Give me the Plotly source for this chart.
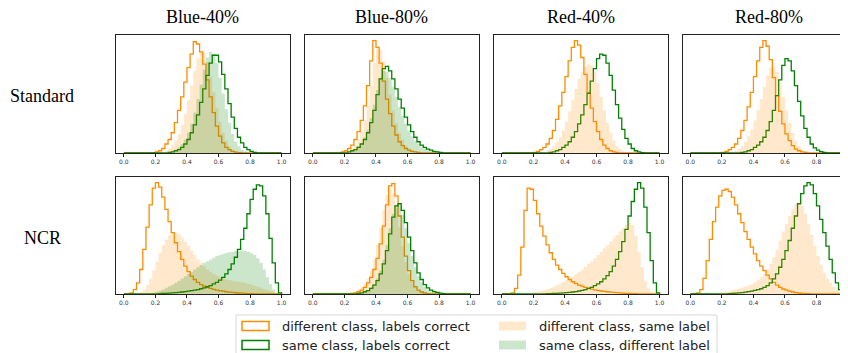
import numpy as np
import plotly.graph_objects as go

COLUMNS = ["Blue-40%", "Blue-80%", "Red-40%", "Red-80%"]
ROWS = ["Standard", "NCR"]
TICKS = [0.0, 0.2, 0.4, 0.6, 0.8, 1.0]
TICK_LABELS = ["0.0", "0.2", "0.4", "0.6", "0.8", "1.0"]
LEGEND_LABELS = ["different class, labels correct", "same class, labels correct",
                 "different class, same label", "same class, different label"]
N_BINS = 50  # bins on [0, 1]

# ---- Standard ----
std_b40_diff_correct = [0,0,0,0,0,0,0,0,0,0.3, 1,2,4,8,12,18,27,38,50,63, 76,88,99,97,90,79,65,50,36,24,
                        15,9,5,3,1.5,0.8,0.4,0,0,0, 0,0,0,0,0,0,0,0,0,0]
std_b40_same_correct = [0,0,0,0,0,0,0,0,0,0, 0,0,0,0,0.5,1,2,3,5,8, 12,18,25,34,45,57,69,80,87,87,
                        81,70,57,44,32,22,14,9,5,3, 1.5,0.5,0,0,0,0,0,0,0,0]
std_b40_diff_same = [0,0,0,0,0,0,0,0,0,0, 0,0,1,2,4,7,11,17,25,35, 47,60,73,84,90,89,81,68,54,40,
                     28,18,11,6,3,1.5,0.5,0,0,0, 0,0,0,0,0,0,0,0,0,0]
std_b40_same_diff = [0,0,0,0,0,0,0,0,0,0, 0,0,0,0,1,2,3,5,8,12, 18,26,36,48,61,74,85,90,88,80,
                     67,53,39,27,17,10,6,3,1.5,0.5, 0,0,0,0,0,0,0,0,0,0]

std_b80_diff_correct = [0,0,0,0,0,0,0,0,0,1, 2,4,7,12,19,29,42,60,82,100, 94,80,64,48,35,24,16,10,6.5,4,
                        2.5,1.5,1,0.5,0,0,0,0,0,0, 0,0,0,0,0,0,0,0,0,0]
std_b80_same_correct = [0,0,0,0,0,0,0,0,0,0, 0,1,2,3,5,8,12,18,27,38, 52,66,75,77,73,66,57,48,40,32,
                        25,19,14,10,7,5,3.5,2.5,1.5,1, 0.5,0,0,0,0,0,0,0,0,0]
std_b80_diff_same = [0,0,0,0,0,0,0,0,0,0, 1,2,4,7,12,19,29,42,60,80, 93,92,82,67,52,38,27,18,12,7,
                     4,2.5,1.5,0.8,0,0,0,0,0,0, 0,0,0,0,0,0,0,0,0,0]
std_b80_same_diff = [0,0,0,0,0,0,0,0,0,0, 0,1,2,3.5,6,9,14,21,31,43, 56,67,73,72,67,59,50,41,33,26,
                     20,15,11,8,5,3.5,2.5,1.5,1,0.5, 0,0,0,0,0,0,0,0,0,0]

std_r40_diff_correct = [0,0,0,0,0,0,0,0,0,0, 0.5,1.5,3,5,8,13,20,30,42,54, 68,82,94,100,96,85,70,54,40,28,
                        19,12,7,4,2,1,0.5,0,0,0, 0,0,0,0,0,0,0,0,0,0]
std_r40_same_correct = [0,0,0,0,0,0,0,0,0,0, 0,0,0,0,0,0.5,1,2,3,5, 7,10,14,19,26,34,43,53,64,75,
                        84,88,87,80,69,56,43,31,21,13, 8,4,2,1,0.3,0,0,0,0,0]
std_r40_diff_same = [0,0,0,0,0,0,0,0,0,0, 0,0,0,1,2,4,6,10,14,20, 28,37,47,57,66,72,77,79,78,72,
                     62,50,38,27,18,11,6,3.5,2,1, 0.5,0,0,0,0,0,0,0,0,0]

std_r80_diff_correct = [0,0,0,0,0,0,0,0,0,0, 0.5,1.5,3,5,8,13,20,29,41,54, 68,82,94,100,95,83,67,51,37,26,
                        17,11,6.5,3.5,2,1,0.5,0,0,0, 0,0,0,0,0,0,0,0,0,0]
std_r80_same_correct = [0,0,0,0,0,0,0,0,0,0, 0,0,0,0,0,0,0.5,1,2,3, 5,7,10,14,20,28,38,51,65,78,
                        84,82,73,60,46,33,22,14,8,4.5, 2.5,1.2,0.5,0,0,0,0,0,0,0]
std_r80_diff_same = [0,0,0,0,0,0,0,0,0,0, 0,0,0.5,1,2,4,6,10,15,21, 29,38,48,59,69,76,77,72,62,50,
                     38,27,18,11,6,3.5,2,1,0.5,0, 0,0,0,0,0,0,0,0,0,0]

# ---- NCR ----
ncr_b40_diff_correct = [0,0,1,4,10,22,40,60,80,95, 100,96,87,76,65,55,46,38,31,25, 20,16,13,10.5,8.5,7,6,5,4.2,3.5,
                        3,2.5,2,1.7,1.4,1.1,0.9,0.7,0.5,0.4, 0.3,0.2,0,0,0,0,0,0,0,0]
ncr_b40_same_correct = [0,0,0,0,0,0,0,0,0,0, 0,0.3,0.5,0.6,0.8,1,1.2,1.5,1.8,2.1, 2.5,3,3.5,4,4.7,5.5,6.5,7.5,9,10.5,
                        12.5,15,18,22,27,33,40,49,59,72, 85,94,98,97,88,72,50,28,10,1]
ncr_b40_diff_same = [0,0,0,0,0.5,1.5,4,8,14,21, 29,37,44,49,53,55,55,54,51,47, 43,39,35,31,28,25,22,20,18,16.5,
                     15,14,13,12.5,12,11.5,11,10.5,10,9, 8.5,7.5,6.5,5.5,4.5,3.5,2.5,1.5,0.7,0.2]
ncr_b40_same_diff = [0,0,0,0,0,0,0,0.3,0.7,1.2, 2,3,4,5.5,7,8.5,10,12,14,16, 18,20,22,24,26,28,29.5,31,32.5,34,
                     35,36,37,37.5,38,38.5,39,39,38.5,38, 36.5,35,32,28,22,15,9,4,1,0.2]

ncr_b80_diff_correct = [0,0,0,0,0,0,0,0,0,0, 0,0,0.5,1,2,3.5,6,10,15,22, 32,45,61,80,97,99,88,70,51,34,
                        21,12,6.5,3.5,1.8,0.9,0.4,0,0,0, 0,0,0,0,0,0,0,0,0,0]
ncr_b80_same_correct = [0,0,0,0,0,0,0,0,0,0, 0,0,0,0,0.5,1,2,3,5,8, 12,18,27,39,54,69,79,81,75,64,
                        51,39,28,19,13,8.5,5.5,3.5,2.2,1.4, 0.8,0.4,0,0,0,0,0,0,0,0]
ncr_b80_diff_same = [0,0,0,0,0,0,0,0,0,0, 0,0.5,1,2,3.5,6,9,14,21,31, 44,59,75,89,95,90,77,60,43,29,
                     18,11,6,3.5,2,1,0.5,0,0,0, 0,0,0,0,0,0,0,0,0,0]
ncr_b80_same_diff = [0,0,0,0,0,0,0,0,0,0, 0,0,0,0,0.5,1,2,3.5,6,9, 14,21,31,44,59,72,80,79,71,59,
                     46,34,24,16,10.5,6.5,4,2.5,1.5,0.8, 0.4,0,0,0,0,0,0,0,0,0]

ncr_r40_diff_correct = [0,0,0,1,5,17,42,75,95,94, 84,72,61,52,44,37,31,26,22,18.5, 15.5,13,11,9.5,8,7,6,5,4.3,3.7,
                        3.2,2.7,2.3,2,1.7,1.4,1.2,1,0.8,0.6, 0.5,0.4,0.3,0.2,0.1,0,0,0,0,0]
ncr_r40_same_correct = [0,0,0,0,0,0,0,0,0,0, 0,0,0,0,0.3,0.4,0.5,0.6,0.8,1, 1.2,1.5,1.8,2.2,2.7,3.3,4,5,6,7.5,
                        9,11,13.5,16.5,20,25,31,38,47,58, 70,83,94,100,95,78,55,30,10,1]
ncr_r40_diff_same = [0,0,0,0,0,0,0,0.3,0.6,1, 1.5,2,2.7,3.5,4.5,5.5,6.5,8,9.5,11, 12.5,14,16,18,20,22,24.5,27,29.5,32,
                     35,38,41,44,47,50,53,56,59,62, 64,62,52,38,24,12,5,1.5,0.3,0]

ncr_r80_diff_correct = [0,0.3,1,4,14,30,49,65,78,88, 93,94,92,87,80,72,64,56,49,42, 36,30,25,21,17,13.5,10.5,8,6,4.5,
                        3.5,2.5,1.8,1.3,0.9,0.6,0.4,0.3,0.2,0.1, 0,0,0,0,0,0,0,0,0,0]
ncr_r80_same_correct = [0,0,0,0,0,0,0,0,0,0, 0,0,0.3,0.5,0.7,1,1.3,1.7,2.1,2.6, 3.2,3.9,4.7,6,7.5,10,13.5,18,24,31,
                        39,48,59,70,81,90,97,100,98,90, 79,67,55,43,31,19,10,4,1,0.2]
ncr_r80_diff_same = [0,0,0,0,0,0,0,0.3,0.6,1, 1.5,2,2.7,3.5,4.2,5,5.8,6.7,7.7,9, 10.5,12.5,15,18,22,27,33,40,48,56,
                     63,70,76,81,82,79,72,63,53,43, 34,26,19,14,10,6.5,3.5,1.5,0.4,0.1]

# panel table: (row, col) -> (diff/correct, same/correct, diff/same-label, same/diff-label)
PANELS = {
    (0, 0): (std_b40_diff_correct, std_b40_same_correct, std_b40_diff_same, std_b40_same_diff),
    (0, 1): (std_b80_diff_correct, std_b80_same_correct, std_b80_diff_same, std_b80_same_diff),
    (0, 2): (std_r40_diff_correct, std_r40_same_correct, std_r40_diff_same, None),
    (0, 3): (std_r80_diff_correct, std_r80_same_correct, std_r80_diff_same, None),
    (1, 0): (ncr_b40_diff_correct, ncr_b40_same_correct, ncr_b40_diff_same, ncr_b40_same_diff),
    (1, 1): (ncr_b80_diff_correct, ncr_b80_same_correct, ncr_b80_diff_same, ncr_b80_same_diff),
    (1, 2): (ncr_r40_diff_correct, ncr_r40_same_correct, ncr_r40_diff_same, None),
    (1, 3): (ncr_r80_diff_correct, ncr_r80_same_correct, ncr_r80_diff_same, None),
}

ORANGE = "#ff8c00"
GREEN = "#008000"
ORANGE_FILL = "rgba(255,140,0,0.2)"
GREEN_FILL = "rgba(0,128,0,0.2)"

# the page body has an 8px margin, so the figure starts at window pixel (8, 8)
OFF = 8
W, H = 848 - OFF, 353 - OFF
def px(x): return (x - OFF) / W
def py(y): return 1 - (y - OFF) / H

COL_PX = [(116, 289.5), (305, 478.5), (494, 667.5), (682.5, 848)]
COL_RANGE = [[-0.05, 1.05], [-0.05, 1.05], [-0.05, 1.05], [-0.05, 1.0]]
ROW_PX = [(35, 153), (177, 294)]

edges = np.linspace(0, 1, N_BINS + 1)

def step_xy(vals):
    v = list(vals)
    assert len(v) == N_BINS
    xs = [0.0] + list(edges) + [1.0]
    ys = [0.0] + v + [v[-1], 0.0]
    return xs, ys

fig = go.Figure()
layout_axes = {}
for (r, c), series in PANELS.items():
    k = r * 4 + c + 1
    xa = f"x{k}" if k > 1 else "x"
    ya = f"y{k}" if k > 1 else "y"
    a, b, cf, d = series
    for vals, color in ((a, ORANGE), (b, GREEN)):
        xs, ys = step_xy(vals)
        fig.add_trace(go.Scatter(x=xs, y=ys, mode="lines", line=dict(color=color, width=1.3, shape="hv"),
                                 xaxis=xa, yaxis=ya, showlegend=False, hoverinfo="skip"))
    for vals, color in ((cf, ORANGE_FILL), (d, GREEN_FILL)):
        if vals is None:
            continue
        xs, ys = step_xy(vals)
        fig.add_trace(go.Scatter(x=xs, y=ys, mode="lines", line=dict(color=color, width=0, shape="hv"),
                                 fill="tozeroy", fillcolor=color,
                                 xaxis=xa, yaxis=ya, showlegend=False, hoverinfo="skip"))
    x0, x1 = COL_PX[c]
    yt, yb = ROW_PX[r]
    xname = "xaxis" if k == 1 else f"xaxis{k}"
    yname = "yaxis" if k == 1 else f"yaxis{k}"
    layout_axes[xname] = dict(
        domain=[px(x0), px(x1)], range=COL_RANGE[c], anchor=ya,
        tickmode="array", tickvals=TICKS, ticktext=TICK_LABELS,
        ticks="outside", ticklen=3, tickwidth=0.8, tickcolor="#222",
        tickfont=dict(family="DejaVu Sans", size=6, color="#333"),
        showline=True, linecolor="#222", linewidth=1, mirror=True,
        showgrid=False, zeroline=False, fixedrange=True)
    layout_axes[yname] = dict(
        domain=[py(yb), py(yt)], range=[0, 105], anchor=xa,
        showticklabels=False, ticks="",
        showline=True, linecolor="#222", linewidth=1, mirror=(c != 3),
        showgrid=False, zeroline=False, fixedrange=True)

annotations = []
for c, name in enumerate(COLUMNS):
    x0, x1 = COL_PX[c]
    xc = (x0 + x1) / 2 if c < 3 else (x0 + x0 + 173.5) / 2
    annotations.append(dict(x=px(xc), y=py(17), xref="paper", yref="paper", text=name, showarrow=False,
                            xanchor="center", yanchor="middle",
                            font=dict(family="Liberation Serif", size=18, color="#000")))
for r, name in enumerate(ROWS):
    yt, yb = ROW_PX[r]
    annotations.append(dict(x=px(42), y=py((yt + yb) / 2 + 2), xref="paper", yref="paper", text=name,
                            showarrow=False, xanchor="center", yanchor="middle",
                            font=dict(family="Liberation Serif", size=18, color="#000")))

# legend (2 columns)
shapes = [dict(type="rect", xref="paper", yref="paper", x0=px(236), x1=px(717), y0=py(362), y1=py(315),
               line=dict(color="#d6d6d6", width=1), fillcolor="rgba(255,255,255,0.8)", layer="above")]
leg_items = [
    (LEGEND_LABELS[0], 242, 326, "line", ORANGE),
    (LEGEND_LABELS[1], 242, 345, "line", GREEN),
    (LEGEND_LABELS[2], 499, 326, "fill", ORANGE_FILL),
    (LEGEND_LABELS[3], 499, 345, "fill", GREEN_FILL),
]
for label, sx, sy, kind, color in leg_items:
    if kind == "line":
        shapes.append(dict(type="rect", xref="paper", yref="paper", x0=px(sx), x1=px(sx + 27),
                           y0=py(sy + 4.5), y1=py(sy - 4.5), line=dict(color=color, width=1.5),
                           fillcolor="rgba(0,0,0,0)", layer="above"))
    else:
        shapes.append(dict(type="rect", xref="paper", yref="paper", x0=px(sx), x1=px(sx + 27),
                           y0=py(sy + 4.5), y1=py(sy - 4.5), line=dict(width=0),
                           fillcolor=color, layer="above"))
    annotations.append(dict(x=px(sx + 38), y=py(sy), xref="paper", yref="paper", text=label,
                            showarrow=False, xanchor="left", yanchor="middle",
                            font=dict(family="DejaVu Sans", size=13, color="#222")))

fig.update_layout(
    width=W, height=H, margin=dict(l=0, r=0, t=0, b=0),
    paper_bgcolor="white", plot_bgcolor="white", showlegend=False,
    annotations=annotations, shapes=shapes, **layout_axes)

fig.write_html("out.html", config={"displayModeBar": False})
